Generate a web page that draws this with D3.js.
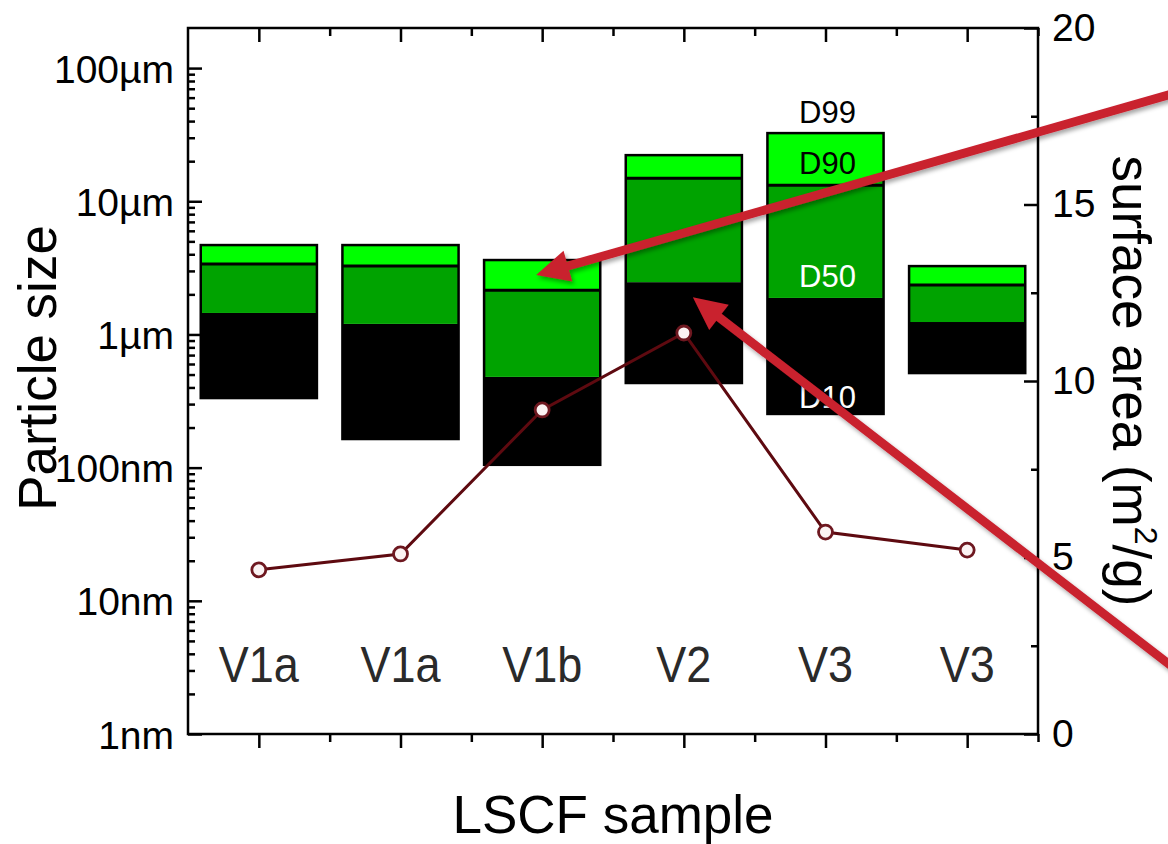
<!DOCTYPE html>
<html>
<head>
<meta charset="utf-8">
<script src="https://cdn.jsdelivr.net/npm/d3@7"></script>
<style>
  body { margin: 0; background: #fff; }
  svg { display: block; font-family: Arial, "Liberation Sans", sans-serif; }
</style>
</head>
<body>
<svg id="chart" width="1168" height="844"></svg>
<script>
// particle size distribution per sample (values in nm)
const samples = ["V1a", "V1a", "V1b", "V2", "V3", "V3"];
const d10 = [333, 164, 105, 432, 253, 513];
const d50 = [1450, 1200, 480, 2470, 1880, 1240];
const d90 = [3380, 3260, 2150, 14900, 13200, 2350];
const d99 = [4690, 4690, 3620, 22200, 32500, 3260];
// BET surface area, m2/g
const surfaceArea = [4.65, 5.10, 9.18, 11.36, 5.72, 5.21];

const sizeTicks = [1, 10, 100, 1000, 10000, 100000];
const sizeTickLabels = ["1nm", "10nm", "100nm", "1µm", "10µm", "100µm"];
const areaTicks = [0, 5, 10, 15, 20];
const areaMinorTicks = [2.5, 7.5, 12.5, 17.5];

const svg = d3.select("#chart");
const plotLeft = 188, plotRight = 1038, plotTop = 28, plotBottom = 734;

const x = d3.scaleLinear().domain([0.5, samples.length + 0.5]).range([plotLeft, plotRight]);
const y = d3.scaleLog().domain([1, 200000]).range([plotBottom, plotTop]);
const y2 = d3.scaleLinear().domain([0, 20]).range([plotBottom, plotTop]);
const step = x(2) - x(1);
const barW = step * 0.82;

// minor log ticks 2..9 per decade
const minorLog = [];
sizeTicks.forEach(t => { for (let k = 2; k <= 9; k++) if (t * k < 200000) minorLog.push(t * k); });

const shadow = svg.append("defs").append("filter").attr("id", "shadow")
    .attr("x", "-20%").attr("y", "-20%").attr("width", "140%").attr("height", "140%");
shadow.append("feDropShadow").attr("dx", 2).attr("dy", 3).attr("stdDeviation", 2)
    .attr("flood-color", "#000").attr("flood-opacity", 0.35);

// bars
const bars = svg.append("g");
samples.forEach((s, i) => {
    const cx = x(i + 1);
    const g = bars.append("g");
    g.append("rect").attr("x", cx - barW / 2).attr("width", barW)
        .attr("y", y(d50[i])).attr("height", y(d10[i]) - y(d50[i])).attr("fill", "#000");
    g.append("rect").attr("x", cx - barW / 2).attr("width", barW)
        .attr("y", y(d90[i])).attr("height", y(d50[i]) - y(d90[i])).attr("fill", "#00a300");
    g.append("rect").attr("x", cx - barW / 2).attr("width", barW)
        .attr("y", y(d99[i])).attr("height", y(d90[i]) - y(d99[i])).attr("fill", "#00ff00");
    g.append("line").attr("x1", cx - barW / 2).attr("x2", cx + barW / 2)
        .attr("y1", y(d90[i])).attr("y2", y(d90[i])).attr("stroke", "#000").attr("stroke-width", 3);
    g.append("rect").attr("x", cx - barW / 2).attr("width", barW)
        .attr("y", y(d99[i])).attr("height", y(d10[i]) - y(d99[i]))
        .attr("fill", "none").attr("stroke", "#000").attr("stroke-width", 2.5);
});

// percentile labels on the V3 bar
const li = 4;
const pLabels = [
    { t: "D99", v: d99[li], dy: -10, c: "#000" },
    { t: "D90", v: d90[li], dy: -11, c: "#000" },
    { t: "D50", v: d50[li], dy: -11, c: "#fff" },
    { t: "D10", v: d10[li], dy: -6, c: "#fff" }
];
svg.append("g").selectAll("text").data(pLabels).join("text")
    .attr("x", x(li + 1) + 2).attr("y", d => y(d.v) + d.dy)
    .attr("text-anchor", "middle").attr("font-size", 31).attr("fill", d => d.c)
    .text(d => d.t);

// sample names inside the plot
svg.append("g").selectAll("text").data(samples).join("text")
    .attr("x", (d, i) => x(i + 1)).attr("y", 682)
    .attr("text-anchor", "middle").attr("font-size", 50).attr("fill", "#2a2a2a")
    .attr("transform", (d, i) => `translate(${x(i + 1)},0) scale(0.9,1) translate(${-x(i + 1)},0)`)
    .text(d => d);

// surface area line
const line = d3.line().x((d, i) => x(i + 1)).y(d => y2(d));
svg.append("path").datum(surfaceArea).attr("d", line)
    .attr("fill", "none").attr("stroke", "#5e0a10").attr("stroke-width", 3);
svg.append("g").selectAll("circle").data(surfaceArea).join("circle")
    .attr("cx", (d, i) => x(i + 1)).attr("cy", d => y2(d)).attr("r", 7)
    .attr("fill", "#fbf3f3").attr("stroke", "#6e1820").attr("stroke-width", 2.8);

// axes
function styleAxis(g) {
    g.select(".domain").remove();
    g.selectAll(".tick line").attr("stroke", "#000").attr("stroke-width", 2.5);
    g.selectAll(".tick text").attr("font-size", 39).attr("fill", "#000").attr("font-family", "Arial, 'Liberation Sans', sans-serif");
}
svg.append("g").attr("transform", `translate(${plotLeft},0)`)
    .call(d3.axisLeft(y).tickValues(sizeTicks).tickSize(-14).tickPadding(14)
        .tickFormat((d, i) => sizeTickLabels[i]))
    .call(styleAxis)
    .call(g => g.selectAll(".tick text").attr("dy", "0.36em"));
svg.append("g").attr("transform", `translate(${plotLeft},0)`)
    .call(d3.axisLeft(y).tickValues(minorLog).tickSize(-7).tickFormat(""))
    .call(styleAxis);

svg.append("g").attr("transform", `translate(${plotRight},0)`)
    .call(d3.axisRight(y2).tickValues(areaTicks).tickSize(-14).tickPadding(14))
    .call(styleAxis);
svg.append("g").attr("transform", `translate(${plotRight},0)`)
    .call(d3.axisRight(y2).tickValues(areaMinorTicks).tickSize(-7).tickFormat(""))
    .call(styleAxis);

const catTicks = d3.range(1, samples.length + 1);
const halfTicks = d3.range(1.5, samples.length + 0.6, 1);
svg.append("g").attr("transform", `translate(0,${plotBottom})`)
    .call(d3.axisBottom(x).tickValues(catTicks).tickSize(14).tickFormat(""))
    .call(styleAxis);
svg.append("g").attr("transform", `translate(0,${plotBottom})`)
    .call(d3.axisBottom(x).tickValues(halfTicks).tickSize(8).tickFormat(""))
    .call(styleAxis);
svg.append("g").attr("transform", `translate(0,${plotTop})`)
    .call(d3.axisTop(x).tickValues(catTicks).tickSize(-14).tickFormat(""))
    .call(styleAxis);
svg.append("g").attr("transform", `translate(0,${plotTop})`)
    .call(d3.axisTop(x).tickValues(halfTicks).tickSize(-8).tickFormat(""))
    .call(styleAxis);

svg.append("rect").attr("x", plotLeft).attr("y", plotTop)
    .attr("width", plotRight - plotLeft).attr("height", plotBottom - plotTop)
    .attr("fill", "none").attr("stroke", "#000").attr("stroke-width", 2.5);

// axis titles
svg.append("text").attr("transform", "translate(56,368) rotate(-90)")
    .attr("text-anchor", "middle").attr("font-size", 53).attr("fill", "#000")
    .text("Particle size");
const t2 = svg.append("text").attr("transform", "translate(1113,381) rotate(90)")
    .attr("text-anchor", "middle").attr("font-size", 53).attr("fill", "#000");
t2.append("tspan").text("surface area (m");
t2.append("tspan").attr("font-size", 32).attr("dy", -22).text("2");
t2.append("tspan").attr("dy", 22).text("/g)");
svg.append("text").attr("x", (plotLeft + plotRight) / 2).attr("y", 833)
    .attr("text-anchor", "middle").attr("font-size", 53).attr("fill", "#000")
    .text("LSCF sample");

// red arrows pointing at the bars
function arrow(tip, tail) {
    const dx = tail[0] - tip[0], dy = tail[1] - tip[1];
    const len = Math.hypot(dx, dy), ux = dx / len, uy = dy / len;
    const nx = -uy, ny = ux;
    const headL = 33, headW = 16, shaftW = 4.4;
    const bx = tip[0] + ux * headL, by = tip[1] + uy * headL;
    const pts = [
        tip,
        [bx + nx * headW, by + ny * headW],
        [bx + nx * shaftW, by + ny * shaftW],
        [tail[0] + nx * shaftW, tail[1] + ny * shaftW],
        [tail[0] - nx * shaftW, tail[1] - ny * shaftW],
        [bx - nx * shaftW, by - ny * shaftW],
        [bx - nx * headW, by - ny * headW]
    ];
    svg.append("path").attr("d", "M" + pts.map(p => p.join(",")).join("L") + "Z")
        .attr("fill", "#c9202f").attr("filter", "url(#shadow)");
}
arrow([x(3) - 6, y(Math.sqrt(d90[2] * d99[2]))], [1200, 86]);
arrow([x(4) + 9, y(d50[3]) + 15], [1200, 688]);
</script>
</body>
</html>
